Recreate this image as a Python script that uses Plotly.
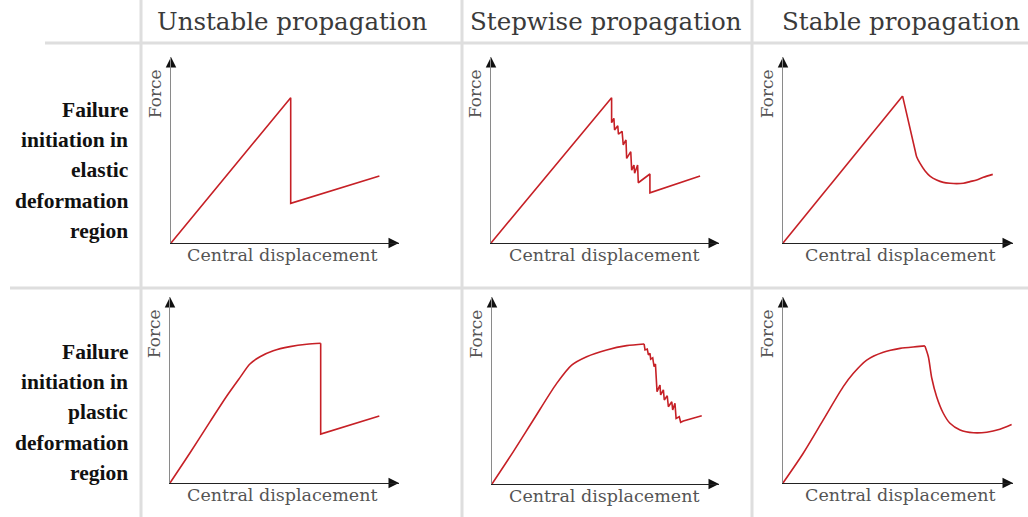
import plotly.graph_objects as go

W, H = 1028, 517

col_titles = ["Unstable propagation", "Stepwise propagation", "Stable propagation"]
row_label_elastic = ["Failure", "initiation in", "elastic", "deformation", "region"]
row_label_plastic = ["Failure", "initiation in", "plastic", "deformation", "region"]
x_label = "Central displacement"
y_label = "Force"

# displacement and force, both in % of the drawn axis length
unstable_elastic_x = [0, 52.5, 52.5, 91.4]
unstable_elastic_y = [0, 78.1, 21.3, 36.0]
stepwise_elastic_x = [0, 52.9, 52.9, 53.9, 54.2, 55.6, 55.9, 57.5, 58.0, 59.2, 59.5, 61.3, 61.7, 62.7, 63.0, 64.3, 64.6, 69.7, 69.7, 91.7]
stepwise_elastic_y = [0, 78.1, 64.7, 67.0, 60.8, 63.0, 58.5, 60.0, 52.7, 55.4, 45.5, 49.1, 39.2, 41.9, 37.5, 41.9, 32.4, 37.1, 27.0, 36.0]
stable_elastic_x = [0, 52.0, 57.4, 58.1, 59.6, 61.7, 63.9, 66.8, 69.7, 72.6, 75.5, 78.4, 81.3, 84.2, 87.1, 91.2]
stable_elastic_y = [0, 79.0, 50.0, 46.4, 42.8, 38.9, 36.0, 33.9, 32.6, 32.1, 31.9, 32.1, 33.0, 33.9, 35.3, 36.9]
unstable_plastic_x = [0, 8.7, 17.5, 24.8, 30.6, 34.9, 39.3, 45.1, 52.4, 59.7, 65.8, 65.8, 91.4]
unstable_plastic_y = [0, 16.1, 33.0, 46.8, 56.8, 64.0, 67.9, 71.1, 73.3, 74.6, 75.1, 26.3, 36.0]
stepwise_plastic_x = [0, 9.4, 18.2, 28.5, 35.1, 41.7, 50.5, 59.3, 67.0, 67.4, 68.4, 68.9, 69.6, 69.9, 70.8, 71.4, 72.0, 72.7,
                      74.0, 74.3, 75.5, 75.9, 77.2, 77.7, 79.2, 79.6, 80.6, 81.1, 82.5, 83.1, 84.3, 92.4]
stepwise_plastic_y = [0, 17.3, 34.2, 53.8, 63.6, 68.1, 71.7, 74.0, 74.9, 71.7, 72.2, 69.0, 69.9, 66.8, 67.5, 62.7, 64.2, 49.4,
                      52.9, 47.6, 50.3, 44.9, 47.2, 41.3, 44.0, 39.6, 43.2, 35.1, 36.0, 33.0, 33.7, 36.5]
stable_plastic_x = [0, 8.8, 17.5, 26.2, 30.6, 36.4, 43.6, 50.9, 58.1, 61.7, 63.2, 64.7, 66.8, 69.7, 72.6, 77.0, 82.8, 88.6, 94.3, 99.4]
stable_plastic_y = [0, 16.0, 33.9, 51.8, 59.0, 66.1, 70.3, 72.4, 73.3, 73.7, 67.9, 56.3, 46.4, 37.5, 32.1, 28.5, 27.0, 27.3, 28.9, 31.4]

curves = [
    (unstable_elastic_x, unstable_elastic_y),
    (stepwise_elastic_x, stepwise_elastic_y),
    (stable_elastic_x, stable_elastic_y),
    (unstable_plastic_x, unstable_plastic_y),
    (stepwise_plastic_x, stepwise_plastic_y),
    (stable_plastic_x, stable_plastic_y),
]
# sharp corners (indices) where a curve is split; segments flagged smooth get spline
corners = [
    ([], False),
    ([], False),
    ([1], [False, True]),
    ([10], [True, False]),
    ([8], [True, False]),
    ([9], [True, True]),
]

# panel placement in pixels: origin x, origin y, arrow tip x, arrow tip y
panels = [
    (171, 243, 399, 57), (491, 243, 719, 57), (783, 243, 1013, 57),
    (170, 483, 399, 297), (492, 484, 719, 297), (783, 483, 1013, 297),
]
xlabel_pos = [0.487, 0.495, 0.51]

RED = "#c62026"
SERIF = "DejaVu Serif"
BOLD_SERIF = "Liberation Serif"

fig = go.Figure()
annotations = []
layout_axes = {}

for i, ((cx, cy), (ox, oy, tx, ty), (brk, smooth)) in enumerate(zip(curves, panels, corners)):
    n = i + 1
    xa = "x" if n == 1 else f"x{n}"
    ya = "y" if n == 1 else f"y{n}"
    xkey = "xaxis" if n == 1 else f"xaxis{n}"
    ykey = "yaxis" if n == 1 else f"yaxis{n}"
    layout_axes[xkey] = dict(domain=[ox / W, tx / W], range=[0, 100], anchor=ya,
                             showgrid=False, zeroline=False, showticklabels=False, ticks="",
                             showline=True, linecolor="#222", linewidth=1.2, fixedrange=True)
    layout_axes[ykey] = dict(domain=[1 - oy / H, 1 - ty / H], range=[0, 100], anchor=xa,
                             showgrid=False, zeroline=False, showticklabels=False, ticks="",
                             showline=True, linecolor="#8a8a8a", linewidth=1.2, fixedrange=True)
    bounds = [0] + brk + [len(cx) - 1]
    flags = smooth if isinstance(smooth, list) else [smooth]
    for s in range(len(bounds) - 1):
        a, b = bounds[s], bounds[s + 1] + 1
        fig.add_trace(go.Scatter(x=cx[a:b], y=cy[a:b], mode="lines", xaxis=xa, yaxis=ya,
                                 line=dict(color=RED, width=1.6,
                                           shape="spline" if flags[s] else "linear", smoothing=0.8),
                                 cliponaxis=False, hoverinfo="skip", showlegend=False))
    # arrow heads on axes
    fig.add_trace(go.Scatter(x=[0, 100], y=[100, 0], mode="markers", xaxis=xa, yaxis=ya,
                             marker=dict(symbol=["arrow-up", "arrow-right"], size=10.5, color="#111",
                                         line=dict(width=0)),
                             cliponaxis=False, hoverinfo="skip", showlegend=False))
    annotations.append(dict(text=y_label, xref=f"{xa} domain", yref=f"{ya} domain",
                            x=0, y=0.80, xanchor="right", yanchor="middle", xshift=-4,
                            textangle=-90, showarrow=False,
                            font=dict(family=SERIF, size=17, color="#555")))
    annotations.append(dict(text=x_label, xref=f"{xa} domain", yref=f"{ya} domain",
                            x=xlabel_pos[i % 3], y=0, xanchor="center", yanchor="middle", yshift=-12,
                            showarrow=False, font=dict(family=SERIF, size=17.5, color="#555")))

# column titles
for t, px in zip(col_titles, [292, 606, 901]):
    annotations.append(dict(text=t, xref="paper", yref="paper", x=px / W, y=1 - 22 / H,
                            xanchor="center", yanchor="middle", showarrow=False,
                            font=dict(family=SERIF, size=24.5, color="#3a3a3a")))

# row labels
for lines, ys in [(row_label_elastic, [110, 140, 170, 201, 231]),
                  (row_label_plastic, [352, 382, 412, 443, 473])]:
    for t, py in zip(lines, ys):
        annotations.append(dict(text=f"<b>{t}</b>", xref="paper", yref="paper", x=130 / W, y=1 - py / H,
                                xanchor="right", yanchor="middle", showarrow=False,
                                font=dict(family=BOLD_SERIF, size=21.5, color="#111")))

GRID = "#dedede"
shapes = []
for px in [141, 462, 752]:
    shapes.append(dict(type="line", xref="paper", yref="paper", x0=px / W, x1=px / W, y0=0, y1=1,
                       line=dict(color=GRID, width=3)))
shapes.append(dict(type="line", xref="paper", yref="paper", x0=45 / W, x1=1, y0=1 - 43 / H, y1=1 - 43 / H,
                   line=dict(color=GRID, width=3)))
shapes.append(dict(type="line", xref="paper", yref="paper", x0=10 / W, x1=1, y0=1 - 288 / H, y1=1 - 288 / H,
                   line=dict(color=GRID, width=3)))

fig.update_layout(width=W, height=H, margin=dict(l=0, r=0, t=0, b=0),
                  paper_bgcolor="white", plot_bgcolor="white",
                  annotations=annotations, shapes=shapes, showlegend=False, **layout_axes)

fig.write_html("out.html", config={"displayModeBar": False, "staticPlot": True},
               post_script="document.body.style.margin='0';document.body.style.overflow='hidden';")
